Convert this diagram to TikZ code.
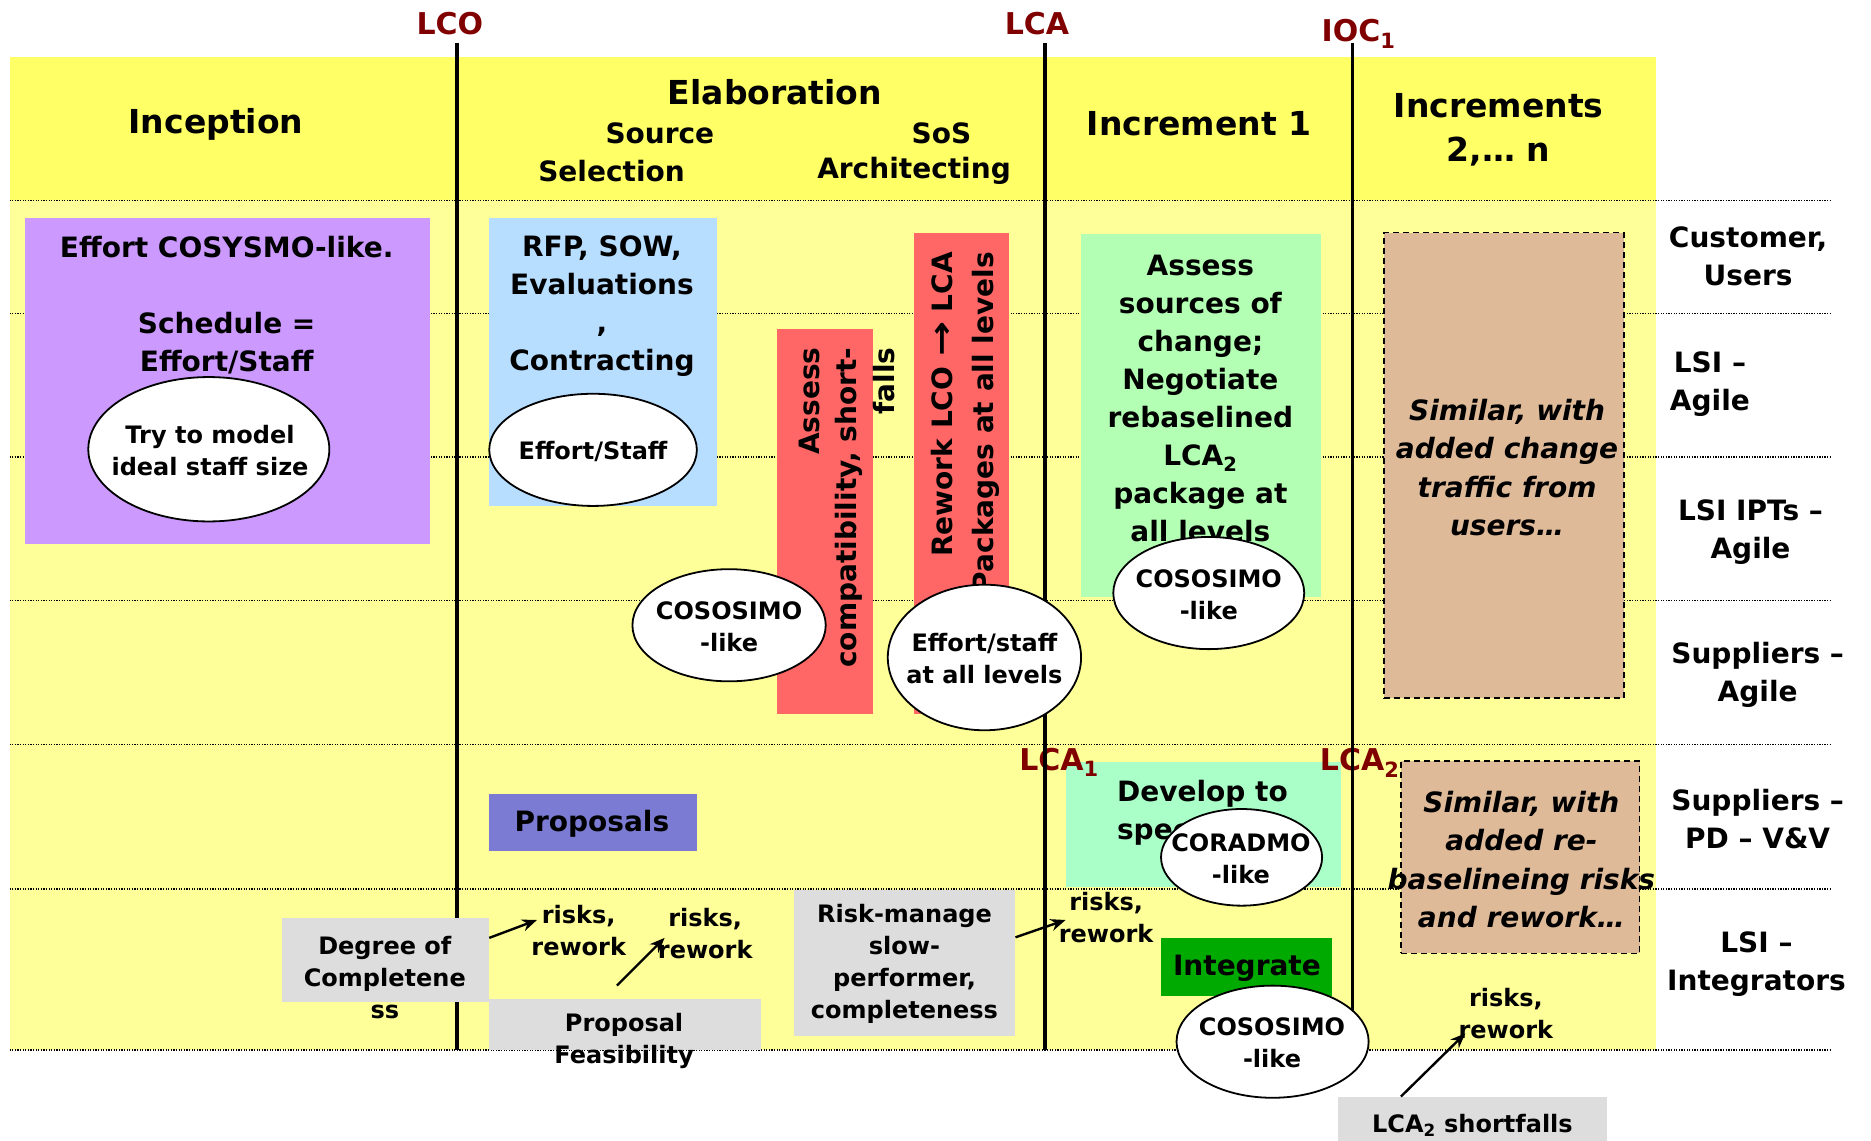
\documentclass[tikz,border=0pt]{standalone}
\usepackage{fontspec}
\usepackage{graphicx}
\setmainfont{DejaVu Sans}
\usetikzlibrary{shapes.geometric,fit,arrows.meta}
\definecolor{hdrY}{RGB}{255,255,102}
\definecolor{bodyY}{RGB}{255,255,153}
\definecolor{purp}{RGB}{204,153,255}
\definecolor{lblue}{RGB}{183,221,255}
\definecolor{redB}{RGB}{255,102,102}
\definecolor{lgreen}{RGB}{179,255,179}
\definecolor{mint}{RGB}{170,255,200}
\definecolor{tanC}{RGB}{222,186,153}
\definecolor{propB}{RGB}{123,123,211}
\definecolor{intG}{RGB}{0,170,0}
\definecolor{grayB}{RGB}{221,221,221}
\definecolor{msred}{RGB}{128,0,0}
\def\U{1.1932pt}
\begin{document}
\begin{tikzpicture}[x=1.1932pt, y=-1.1932pt,
  box/.style={inner sep=0pt, outer sep=0pt, draw=none},
  tanbox/.style={box, fill=tanC, draw=black, line width=1.6pt, dash pattern=on 6pt off 4pt},
  ell/.style={ellipse, draw=black, line width=1.8pt, fill=white, inner sep=0pt, outer sep=0pt},
  btxt/.style={font=\bfseries\fontsize{28}{38}\selectfont, align=center, inner sep=0pt},
  stxt/.style={font=\bfseries\fontsize{24}{32}\selectfont, align=center, inner sep=0pt},
  htxt/.style={font=\bfseries\fontsize{33}{44}\selectfont, align=center, inner sep=0pt},
  mtxt/.style={font=\bfseries\fontsize{30}{36}\selectfont, text=msred, inner sep=0pt, anchor=base},
  itxt/.style={font=\bfseries\itshape\fontsize{28}{38.5}\selectfont, align=center, inner sep=0pt},
  arr/.style={-{Stealth[length=15pt,width=12pt]}, line width=2.4pt},
  dotl/.style={line width=1.3pt, dash pattern=on 1.3pt off 1.3pt},
  vline/.style={line width=3.6pt}]
\useasboundingbox (0,0) rectangle (1568,956);
% backgrounds
\node[box, fill=hdrY, fit={(8,48) (1388,168)}] (hdr) {};
\node[box, fill=bodyY, fit={(8,168) (1388,880)}] (body) {};
% dotted lane lines
\foreach \yy in {168,263,383,503,624,745,880}
  \draw[dotl] (8,\yy) -- (1535,\yy);
% headers
\node[htxt] (hinc) at (181,104) {Inception};
\node[htxt] (hela) at (649.5,77) {Elaboration};
\node[btxt] (hsrc1) at (553,112) {Source};
\node[btxt] (hsrc2) at (512.5,143.5) {Selection};
\node[btxt] (hsos1) at (789,112) {SoS};
\node[btxt] (hsos2) at (766,143.5) {Architecting};
\node[htxt] (hin1) at (1005,104) {Increment 1};
\node[htxt] (hinn) at (1256,109) {Increments\\2,… n};
% lane labels
\node[btxt] (lcust) at (1465,215) {Customer,\\Users};
\node[btxt] (llsi1) at (1433,322) {LSI –\\Agile};
\node[btxt] (llsi2) at (1467,446) {LSI IPTs –\\Agile};
\node[btxt] (lsup1) at (1473,566) {Suppliers –\\Agile};
\node[btxt] (lsup2) at (1473,686.5) {Suppliers –\\PD – V\&V};
\node[btxt] (llsi3) at (1472,808) {LSI –\\Integrators};
% milestone labels (top)
\node[mtxt] (mlco) at (377,29) {LCO};
\node[mtxt] (mlca) at (869,29) {LCA};
\node[mtxt] (mioc) at (1138.5,35) {IOC\textsubscript{1}};
% inception box
\node[box, fill=purp, fit={(21,183) (360,456)}] (purple) {};
\node[btxt] (purplet) at (190,256) {Effort COSYSMO-like.\\\mbox{}\\Schedule =\\Effort/Staff};
% source selection box
\node[box, fill=lblue, fit={(410,183) (601,424)}] (blue) {};
\node[btxt] (bluet) at (504.5,256.5) {RFP, SOW,\\Evaluations\\,\\Contracting};
% red boxes
\node[box, fill=redB, fit={(651,276) (732,598)}] (red1) {};
\node[btxt, rotate=90, anchor=east, align=right, font=\bfseries\fontsize{28}{37.6}\selectfont] (red1t) at (709.5,291) {Assess\\compatibility, short-\\falls};
\node[box, fill=redB, fit={(766,195) (846,598)}] (red2) {};
\node[btxt, rotate=90, anchor=east, align=right, font=\bfseries\fontsize{28}{40.5}\selectfont] (red2t) at (809,211) {Rework LCO \scalebox{1.5}[1.15]{→} LCA\\Packages at all levels};
% increment 1 box
\node[box, fill=lgreen, fit={(906,196) (1107,500.5)}] (green1) {};
\node[btxt] (green1t) at (1006,334) {Assess\\sources of\\change;\\Negotiate\\rebaselined\\LCA\textsubscript{2}\\package at\\all levels};
% increments 2..n box
\node[tanbox, fit={(1160,195) (1361,585)}] (tan1) {};
\node[itxt] (tan1t) at (1263,392) {Similar, with\\added change\\traffic from\\users…};
% proposals
\node[box, fill=propB, fit={(410,665) (584,713)}] (prop) {};
\node[btxt] (propt) at (496,690) {Proposals};
% develop to spec
\node[box, fill=mint, fit={(893,639) (1124,743)}] (dev) {};
\node[btxt, align=left, anchor=west] (devt) at (936,681) {Develop to\\spec};
% tan box 2
\node[tanbox, fit={(1174,638) (1374,799)}] (tan2) {};
\node[itxt] (tan2t) at (1275,720.5) {Similar, with\\added re-\\baselineing risks\\and rework…};
% integrate
\node[box, fill=intG, fit={(973,786) (1116,835)}] (integ) {};
\node[btxt] (integt) at (1045,811.5) {Integrate};
% milestone labels (middle)
\node[mtxt] (mlca1) at (887.5,645.5) {LCA\textsubscript{1}};
\node[mtxt] (mlca2) at (1139.5,645.5) {LCA\textsubscript{2}};
% milestone vertical lines
\coordinate (tlco) at (383,36);  \coordinate (blco) at (383,880);
\coordinate (tlca) at (876,36);  \coordinate (blca) at (876,880);
\coordinate (tioc) at (1133.5,36); \coordinate (bioc) at (1133.5,880);
\draw[vline] (tlco) -- (blco);
\draw[vline] (tlca) -- (blca);
\draw[vline] (tioc) -- (bioc);
% gray boxes
\node[box, fill=grayB, fit={(236,769) (410,840)}] (deg) {};
\node[stxt] (degt) at (322.5,819) {Degree of\\Completene\\ss};
\node[box, fill=grayB, fit={(410,837) (638,880)}] (pf) {};
\node[stxt] (pft) at (523,872.5) {Proposal\\Feasibility};
\node[box, fill=grayB, fit={(665,746) (851,868)}] (rm) {};
\node[stxt] (rmt) at (758,808) {Risk-manage\\slow-\\performer,\\completeness};
\node[box, fill=grayB, fit={(1121,919) (1347,956)}] (sf) {};
\node[stxt] (sft) at (1234,943) {LCA\textsubscript{2} shortfalls};
% risks labels
\node[stxt] (rk1) at (485,779.5) {risks,\\rework};
\node[stxt] (rk2) at (591,782.5) {risks,\\rework};
\node[stxt] (rk3) at (927,769) {risks,\\rework};
\node[stxt] (rk4) at (1262,849.5) {risks,\\rework};
% ellipses
\node[ell, minimum width=202*\U, minimum height=121*\U] (e1) at (175,376.5) {};
\node[stxt] (e1t) at (176,378) {Try to model\\ideal staff size};
\node[ell, minimum width=174*\U, minimum height=94*\U] (e2) at (497,377) {};
\node[stxt] (e2t) at (497,378) {Effort/Staff};
\node[ell, minimum width=162*\U, minimum height=94*\U] (e3) at (611,524) {};
\node[stxt] (e3t) at (611,525) {COSOSIMO\\-like};
\node[ell, minimum width=162*\U, minimum height=122*\U] (e4) at (825,551) {};
\node[stxt] (e4t) at (825,552) {Effort/staff\\at all levels};
\node[ell, minimum width=160*\U, minimum height=94*\U] (e5) at (1013,497) {};
\node[stxt] (e5t) at (1013,498.5) {COSOSIMO\\-like};
\node[ell, minimum width=135*\U, minimum height=81*\U] (e6) at (1040.5,718.5) {};
\node[stxt] (e6t) at (1040,720) {CORADMO\\-like};
\node[ell, minimum width=161*\U, minimum height=94*\U] (e7) at (1066.5,873) {};
\node[stxt] (e7t) at (1066,874) {COSOSIMO\\-like};
% arrows
\coordinate (a1e) at (450,771);
\coordinate (a2s) at (517,826);
\coordinate (a2e) at (557,786);
\coordinate (a3e) at (893,771);
\coordinate (a4s) at (1174,919);
\coordinate (a4e) at (1228,866);
\draw[arr] (deg.12) -- (a1e);
\draw[arr] (a2s) -- (a2e);
\draw[arr] (rm.13) -- (a3e);
\draw[arr] (a4s) -- (a4e);
\end{tikzpicture}
\end{document}
